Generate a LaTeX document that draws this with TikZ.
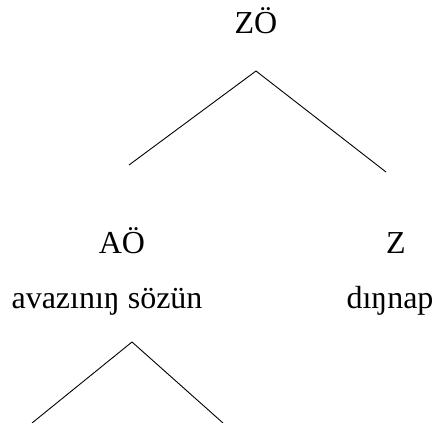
\documentclass[tikz,border=0pt]{standalone}
\usepackage{fontspec}
\setmainfont{Liberation Serif}
\usepackage{tikz}

\begin{document}
\begin{tikzpicture}[x=1pt,y=1pt,
  lbl/.style={anchor=base,inner sep=0pt,font=\fontsize{32}{38}\selectfont},
  branch/.style={line width=0.9pt}]
\useasboundingbox (0,0) rectangle (448,-423);
\node[lbl] (zo) at (256,-33) {ZÖ};
\node[lbl] (ao) at (122,-253) {AÖ};
\node[lbl] (z) at (396,-253) {Z};
\node[lbl] (aowd) at (107,-308) {avazınıŋ sözün};
\node[lbl] (zwd) at (390,-308) {dıŋnap};

 \coordinate (top) at (256,-71);
 \coordinate (topl) at (129,-165);
 \coordinate (topr) at (386,-172);

 \coordinate (low) at (132,-342);
 \coordinate (lowl) at (32,-423);
 \coordinate (lowr) at (223,-423);

\draw[branch] (topl) -- (top) -- (topr);
\draw[branch] (lowl) -- (low) -- (lowr);
\end{tikzpicture}
\end{document}
